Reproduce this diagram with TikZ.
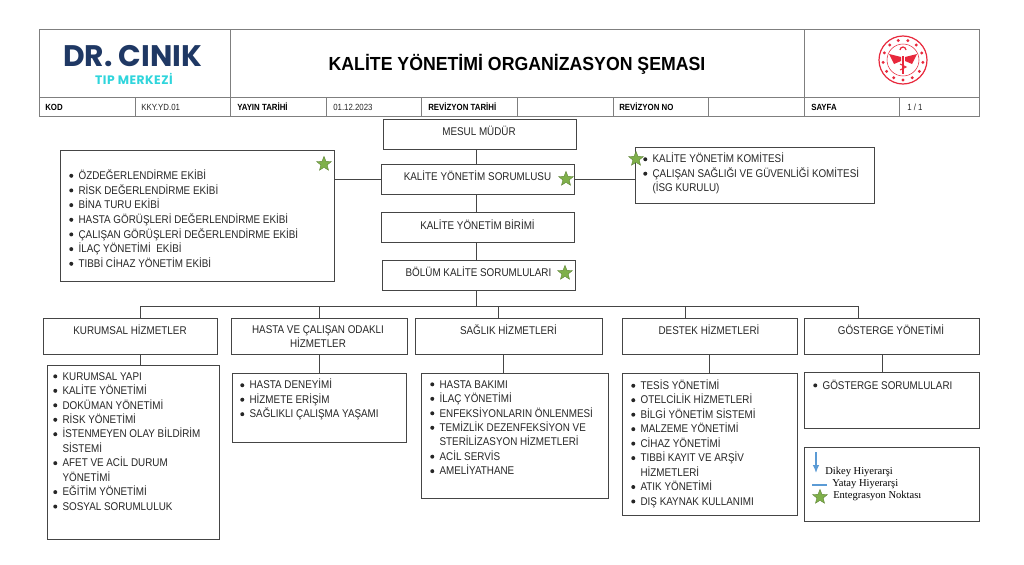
\documentclass[tikz,border=0pt]{standalone}
\usepackage{fontspec}
\setmainfont{Liberation Sans}
\newfontfamily\narrow[FakeStretch=0.88]{Liberation Sans}
\newfontfamily\titlefont[FakeStretch=0.935]{Liberation Sans}
\newfontfamily\legendfont{Liberation Serif}
\newfontfamily\logofont{Poppins}
\newfontfamily\logosubfont[LetterSpace=4]{Poppins}
\usetikzlibrary{shapes.geometric,arrows.meta}
\definecolor{linec}{HTML}{454545}
\definecolor{headc}{HTML}{7F7F7F}
\definecolor{starc}{HTML}{7FB04A}
\definecolor{HeadNavy}{HTML}{1F3864}
\definecolor{HeadCyan}{HTML}{2FD5DC}
\definecolor{EmbRed}{HTML}{E8283C}
\definecolor{LegBlue}{HTML}{5B9BD5}
\tikzset{x=0.75pt,y=-0.75pt,
 box/.style={draw=linec,line width=0.75pt},
 headline/.style={draw=headc,line width=0.6pt},
 conn/.style={draw=linec,line width=0.75pt},
 txt/.style={font=\narrow\fontsize{8.4}{10.6}\selectfont,text=black!85,inner sep=0pt,align=center},
 lst/.style={font=\narrow\fontsize{8.4}{10.85}\selectfont,text=black!85,inner sep=0pt,align=left,anchor=north west},
 cell/.style={font=\narrow\fontsize{6.7}{8}\selectfont,text=black!85,inner sep=0pt,anchor=west},
 cellb/.style={font=\narrow\bfseries\fontsize{6.7}{8}\selectfont,text=black,inner sep=0pt,anchor=west},
 starn/.style={star,star points=5,star point ratio=2.3,fill=starc,draw=starc!75!black,line width=0.3pt,minimum size=11.5pt,inner sep=0pt},
}
\newcommand{\bl}{\makebox[7pt][l]{\raisebox{2.8pt}{\tikz[baseline]\fill (0,0) circle (1.5pt);}}}
\newcommand{\ind}{\hspace*{7pt}}
\begin{document}
\begin{tikzpicture}
\useasboundingbox (0,0) rectangle (1024,564);
\fill[white] (0,0) rectangle (1024,564);
% header
\draw[headline] (39,29) rectangle (979,116);
\draw[headline] (39,97) -- (979,97);
\draw[headline] (230,29) -- (230,116);
\draw[headline] (804,29) -- (804,116);
\foreach \xx in {135,326,421,517,613,708,899} \draw[headline] (\xx,97) -- (\xx,116);
\node[font=\logofont\bfseries\fontsize{22.3}{24}\selectfont,text=HeadNavy,inner sep=0pt] (logo) at (132.5,56) {DR. CINIK};
\node[font=\logosubfont\bfseries\fontsize{9.2}{10}\selectfont,text=HeadCyan,inner sep=0pt] (logosub) at (134,79) {TIP MERKEZİ};
\node[font=\titlefont\bfseries\fontsize{14.2}{16}\selectfont,inner sep=0pt] (title) at (517,64) {KALİTE YÖNETİMİ ORGANİZASYON ŞEMASI};
% emblem
\begin{scope}[shift={(903,60)}]
\draw[draw=EmbRed,line width=0.9pt] (0,0) circle (24);
\draw[draw=EmbRed,line width=0.4pt] (0,0) circle (16);
\foreach \a in {0,27.7,...,340} \fill[EmbRed] (\a+90:20) circle (1.6);
\fill[EmbRed] (-14,-6) -- (-2,-3) -- (-2,1) -- (-9,4) -- cycle;
\fill[EmbRed] (14,-6) -- (2,-3) -- (2,1) -- (9,4) -- cycle;
\fill[EmbRed] (-1.4,-4) rectangle (1.4,14);
\draw[draw=EmbRed,line width=0.9pt] (-3,-10) arc (180:360:3 and 3);
\draw[draw=EmbRed,line width=0.8pt] (-3,4) -- (3,7) -- (-3,10);
\end{scope}
\node[cellb] (c1) at (45,107) {KOD};
\node[cell] (c2) at (141,107) {KKY.YD.01};
\node[cellb] (c3) at (237,107) {YAYIN TARİHİ};
\node[cell] (c4) at (333,107) {01.12.2023};
\node[cellb] (c5) at (428,107) {REVİZYON TARİHİ};
\node[cellb] (c6) at (619,107) {REVİZYON NO};
\node[cellb] (c7) at (811,107) {SAYFA};
\node[cell] (c8) at (907,107) {1 / 1};
% central boxes
\node[box,minimum width=144.75pt,minimum height=22.5pt,inner sep=0pt,anchor=north west] (mesul) at (383,119) {};
\node[txt] at (479,131) {MESUL MÜDÜR};
\node[box,minimum width=144.75pt,minimum height=22.5pt,inner sep=0pt,anchor=north west] (sorum) at (381,164) {};
\node[txt] at (477.5,176) {KALİTE YÖNETİM SORUMLUSU};
\node[box,minimum width=144.75pt,minimum height=22.5pt,inner sep=0pt,anchor=north west] (birim) at (381,212) {};
\node[txt] at (477.5,224.5) {KALİTE YÖNETİM BİRİMİ};
\node[box,minimum width=144.75pt,minimum height=22.5pt,inner sep=0pt,anchor=north west] (bolum) at (382,260) {};
\node[txt] at (478.5,272) {BÖLÜM KALİTE SORUMLULARI};
% side boxes
\node[box,minimum width=205.5pt,minimum height=98.25pt,inner sep=0pt,anchor=north west] (leftb) at (60,150) {};
\node[lst,font=\narrow\fontsize{8.4}{11}\selectfont] at (69,169.5) {\bl ÖZDEĞERLENDİRME EKİBİ\\\bl RİSK DEĞERLENDİRME EKİBİ\\\bl BİNA TURU EKİBİ\\\bl HASTA GÖRÜŞLERİ DEĞERLENDİRME EKİBİ\\\bl ÇALIŞAN GÖRÜŞLERİ DEĞERLENDİRME EKİBİ\\\bl İLAÇ YÖNETİMİ\ \ EKİBİ\\\bl TIBBİ CİHAZ YÖNETİM EKİBİ};
\node[box,minimum width=179.25pt,minimum height=42pt,inner sep=0pt,anchor=north west] (rightb) at (635,147) {};
\node[lst] at (643,153) {\bl KALİTE YÖNETİM KOMİTESİ\\\bl ÇALIŞAN SAĞLIĞI VE GÜVENLİĞİ KOMİTESİ\\\ind(İSG KURULU)};
% spine
\coordinate (bus) at (476.5,306);
\draw[conn] (mesul.south-|bus) -- (sorum.north-|bus);
\draw[conn] (sorum.south-|bus) -- (birim.north-|bus);
\draw[conn] (birim.south-|bus) -- (bolum.north-|bus);
\draw[conn] (leftb.east|-sorum.west) -- (sorum.west);
\draw[conn] (sorum.east) -- (sorum.east-|rightb.west);
% level boxes
\node[box,minimum width=130.5pt,minimum height=27pt,inner sep=0pt,anchor=north west] (l1) at (43,318) {};
\node[txt] at (130,330) {KURUMSAL HİZMETLER};
\node[box,minimum width=132pt,minimum height=27pt,inner sep=0pt,anchor=north west] (l2) at (231,318) {};
\node[txt] at (318,337) {HASTA VE ÇALIŞAN ODAKLI\\HİZMETLER};
\node[box,minimum width=140.25pt,minimum height=27pt,inner sep=0pt,anchor=north west] (l3) at (415,318) {};
\node[txt] at (508.5,330) {SAĞLIK HİZMETLERİ};
\node[box,minimum width=131.25pt,minimum height=27pt,inner sep=0pt,anchor=north west] (l4) at (622,318) {};
\node[txt] at (709,330) {DESTEK HİZMETLERİ};
\node[box,minimum width=131.25pt,minimum height=27pt,inner sep=0pt,anchor=north west] (l5) at (804,318) {};
\node[txt] at (891,330) {GÖSTERGE YÖNETİMİ};
% list boxes
\node[box,minimum width=129pt,minimum height=130.5pt,inner sep=0pt,anchor=north west] (b1) at (47,365) {};
\node[lst] at (53,372) {\bl KURUMSAL YAPI\\\bl KALİTE YÖNETİMİ\\\bl DOKÜMAN YÖNETİMİ\\\bl RİSK YÖNETİMİ\\\bl İSTENMEYEN OLAY BİLDİRİM\\\ind SİSTEMİ\\\bl AFET VE ACİL DURUM\\\ind YÖNETİMİ\\\bl EĞİTİM YÖNETİMİ\\\bl SOSYAL SORUMLULUK};
\node[box,minimum width=130.5pt,minimum height=51.75pt,inner sep=0pt,anchor=north west] (b2) at (232,373) {};
\node[lst] at (240,379) {\bl HASTA DENEYİMİ\\\bl HİZMETE ERİŞİM\\\bl SAĞLIKLI ÇALIŞMA YAŞAMI};
\node[box,minimum width=140.25pt,minimum height=93.75pt,inner sep=0pt,anchor=north west] (b3) at (421,373) {};
\node[lst] at (430,380) {\bl HASTA BAKIMI\\\bl İLAÇ YÖNETİMİ\\\bl ENFEKSİYONLARIN ÖNLENMESİ\\\bl TEMİZLİK DEZENFEKSİYON VE\\\ind STERİLİZASYON HİZMETLERİ\\\bl ACİL SERVİS\\\bl AMELİYATHANE};
\node[box,minimum width=131.25pt,minimum height=106.5pt,inner sep=0pt,anchor=north west] (b4) at (622,373) {};
\node[lst] at (631,379.5) {\bl TESİS YÖNETİMİ\\\bl OTELCİLİK HİZMETLERİ\\\bl BİLGİ YÖNETİM SİSTEMİ\\\bl MALZEME YÖNETİMİ\\\bl CİHAZ YÖNETİMİ\\\bl TIBBİ KAYIT VE ARŞİV\\\ind HİZMETLERİ\\\bl ATIK YÖNETİMİ\\\bl DIŞ KAYNAK KULLANIMI};
\node[box,minimum width=131.25pt,minimum height=42pt,inner sep=0pt,anchor=north west] (b5) at (804,372) {};
\node[lst] at (813,379.5) {\bl GÖSTERGE SORUMLULARI};
% bus
\draw[conn] (bolum.south-|bus) -- (bus);
\coordinate (busl) at (140,306);
\coordinate (busr) at (858.5,306);
\draw[conn] (busl) -- (busr);
\draw[conn] (busl) -- (busl|-l1.north);
\draw[conn] (319,306) -- (319,318);
\draw[conn] (498.5,306) -- (498.5,318);
\draw[conn] (685,306) -- (685,318);
\draw[conn] (busr) -- (busr|-l5.north);
\draw[conn] (140,354) -- (140,365);
\draw[conn] (319,354) -- (319,373);
\draw[conn] (503,354) -- (503,373);
\draw[conn] (709.5,354) -- (709.5,373);
\draw[conn] (882,354) -- (882,372);
% stars
\node[starn] at (324,164) {};
\node[starn] at (566,179) {};
\node[starn] at (636,159) {};
\node[starn] at (565,273) {};
% legend
\node[box,minimum width=131.25pt,minimum height=55.5pt,inner sep=0pt,anchor=north west] (leg) at (804,447) {};
\coordinate (a1) at (816,452);
\coordinate (a2) at (816,473);
\draw[draw=LegBlue,line width=1pt,-{Latex[length=6pt,width=5pt]}] (a1) -- (a2);
\coordinate (h1) at (812,485);
\coordinate (h2) at (827,485);
\draw[draw=LegBlue,line width=1pt] (h1) -- (h2);
\node[starn] at (820,497) {};
\node[font=\legendfont\fontsize{7.9}{9}\selectfont,inner sep=0pt,anchor=west] at (825,472) {Dikey Hiyerarşi};
\node[font=\legendfont\fontsize{7.9}{9}\selectfont,inner sep=0pt,anchor=west] at (832,484) {Yatay Hiyerarşi};
\node[font=\legendfont\fontsize{7.9}{9}\selectfont,inner sep=0pt,anchor=west] at (833,496) {Entegrasyon Noktası};
\end{tikzpicture}
\end{document}
